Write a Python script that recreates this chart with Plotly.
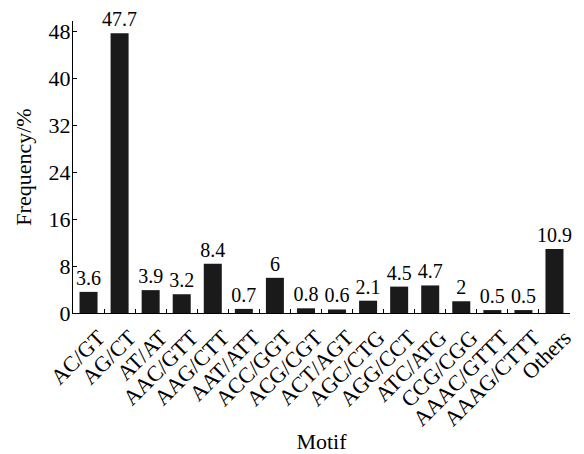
import plotly.graph_objects as go

motifs = ["AC/GT", "AG/CT", "AT/AT", "AAC/GTT", "AAG/CTT", "AAT/ATT", "ACC/GGT",
          "ACG/CGT", "ACT/AGT", "AGC/CTG", "AGG/CCT", "ATC/ATG", "CCG/CGG",
          "AAAC/GTTT", "AAAG/CTTT", "Others"]
frequency = [3.6, 47.7, 3.9, 3.2, 8.4, 0.7, 6, 0.8, 0.6, 2.1, 4.5, 4.7, 2, 0.5, 0.5, 10.9]
labels = ["3.6", "47.7", "3.9", "3.2", "8.4", "0.7", "6", "0.8", "0.6", "2.1", "4.5",
          "4.7", "2", "0.5", "0.5", "10.9"]
yticks = [0, 8, 16, 24, 32, 40, 48]

font = "Liberation Serif"
tf = dict(family=font, size=20, color="black")

fig = go.Figure(go.Bar(
    x=motifs, y=frequency, text=labels, textposition="outside",
    textfont=tf, outsidetextfont=tf, constraintext="none",
    marker=dict(color="#1a1a1a", line=dict(width=0)),
    width=0.58, cliponaxis=False, textangle=0,
))

fig.update_layout(
    width=576, height=446,
    margin=dict(l=65, r=14, t=13, b=141, pad=0),
    plot_bgcolor="white", paper_bgcolor="white",
    showlegend=False,
    font=dict(family=font, color="black"),
    xaxis=dict(
        title=dict(text="Motif", font=dict(family=font, size=22), standoff=6),
        tickangle=-45, tickfont=dict(family=font, size=22),
        ticklabelshift=10, ticklabelstandoff=2,
        showline=True, linecolor="black", linewidth=1.3,
        ticks="inside", ticklen=4, tickcolor="black", tickson="boundaries",
        showgrid=False, mirror=False, automargin=False,
    ),
    yaxis=dict(
        title=dict(text="Frequency/%", font=dict(family=font, size=22), standoff=10),
        range=[0, 49.8], tickvals=yticks, tickfont=dict(family=font, size=22),
        ticklabelstandoff=-3,
        showline=True, linecolor="black", linewidth=1.3,
        ticks="inside", ticklen=4, tickcolor="black",
        showgrid=False, zeroline=False, automargin=False,
    ),
)

fig.write_html("out.html")
